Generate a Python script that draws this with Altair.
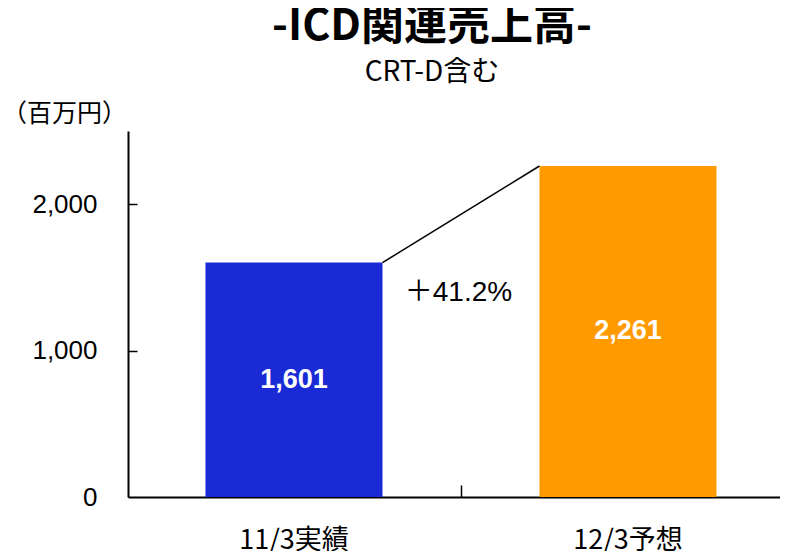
import altair as alt
import pandas as pd

# ---- data ----
categories = ["11/3実績", "12/3予想"]
values = [1601, 2261]
bar_colors = ["#1a2bd5", "#ff9a00"]
y_tick_values = [0, 1000, 2000]
y_domain = [0, 2500]
title_text = "-ICD関連売上高-"
subtitle_text = "CRT-D含む"
unit_label = "（百万円）"

JP = "Noto Sans CJK JP"
NUM = "Liberation Sans"

bars_df = pd.DataFrame({
    "cat": categories,
    "value": values,
    "color": bar_colors,
    "label": [f"{v:,}" for v in values],
})
growth = (values[1] / values[0] - 1) * 100
conn_df = pd.DataFrame({
    "from_cat": [categories[0]],
    "to_cat": [categories[1]],
    "from_val": [values[0]],
    "to_val": [values[1]],
    "growth": [f"＋{growth:.1f}%"],
})

xscale = alt.Scale(domain=categories, paddingInner=0.47, paddingOuter=0.223, align=0.52)
yscale = alt.Scale(domain=y_domain, nice=False, zero=True)

bars = alt.Chart(bars_df).mark_bar().encode(
    x=alt.X("cat:N", scale=xscale, sort=categories,
            axis=alt.Axis(title=None, orient="bottom", ticks=False, labelAngle=0,
                          labelFont=JP, labelFontSize=27, labelColor="black",
                          labelPadding=30, domainColor="black", domainWidth=2)),
    y=alt.Y("value:Q", scale=yscale,
            axis=alt.Axis(orient="left", values=y_tick_values, format=",d", ticks=False,
                          grid=False, labelFont=NUM, labelFontSize=26, labelColor="black",
                          labelPadding=31, domainColor="black", domainWidth=2,
                          title=unit_label, titleAngle=0, titleX=-64, titleY=-18,
                          titleAlign="center", titleBaseline="middle", titleFont=JP,
                          titleFontSize=25, titleFontWeight="normal", titleColor="black")),
    color=alt.Color("color:N", scale=None),
)

# inside tick marks (axis only, invisible bars)
tick_layer = alt.Chart(bars_df).mark_bar(opacity=0).encode(
    x=alt.X("cat:N", scale=xscale, sort=categories,
            axis=alt.Axis(title=None, orient="bottom", offset=-12, tickSize=12,
                          values=[categories[0]], tickOffset=167, labels=False,
                          domain=False, grid=False, tickColor="black", tickWidth=1.5)),
    y=alt.Y("value:Q", scale=yscale,
            axis=alt.Axis(title=None, orient="left", offset=-9, tickSize=9,
                          values=[v for v in y_tick_values if v > 0], labels=False,
                          domain=False, grid=False, tickColor="black", tickWidth=1.5)),
)

labels = alt.Chart(bars_df).transform_calculate(half="datum.value / 2").mark_text(
    font=NUM, fontSize=27, fontWeight="bold", color="white", baseline="middle", align="center"
).encode(
    x=alt.X("cat:N", scale=xscale, sort=categories, axis=None),
    y=alt.Y("half:Q", scale=yscale, axis=None),
    text="label:N",
)

connector = alt.Chart(conn_df).mark_rule(color="black", strokeWidth=1.5).encode(
    x=alt.X("from_cat:N", scale=xscale, bandPosition=1, axis=None),
    x2=alt.X2("to_cat", bandPosition=0),
    y=alt.Y("from_val:Q", scale=yscale, axis=None),
    y2="to_val",
)

growth_text = alt.Chart(conn_df).mark_text(
    font=f"{NUM}, {JP}", fontSize=28, color="black", align="center", baseline="middle",
    dx=76, dy=30
).encode(
    x=alt.X("from_cat:N", scale=xscale, bandPosition=1, axis=None),
    y=alt.Y("from_val:Q", scale=yscale, axis=None),
    text="growth:N",
)

chart = alt.layer(bars, tick_layer, labels, connector, growth_text).resolve_axis(
    x="independent", y="independent"
).properties(
    width=660,
    height=366,
    background="white",
    autosize=alt.AutoSizeParams(type="none"),
    padding={"left": 120, "top": 123, "right": -8, "bottom": 54},
    title=alt.TitleParams(
        text=title_text, subtitle=subtitle_text, anchor="middle", frame="group", dx=-26,
        offset=14, font=JP, fontSize=43, fontWeight="bold", color="black",
        subtitleFont=JP, subtitleFontSize=28, subtitleColor="black", subtitlePadding=10,
    ),
).configure_view(stroke=None)

chart.save("out.html", embed_options={"renderer": "svg", "actions": False})
